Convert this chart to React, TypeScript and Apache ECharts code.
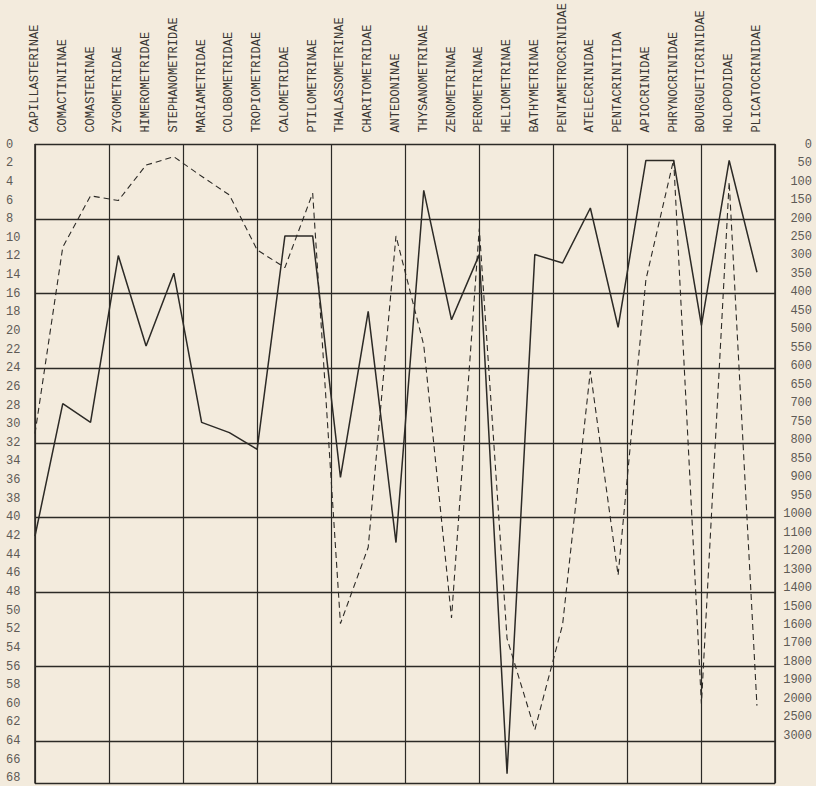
import React, { useEffect, useRef } from "react";
import * as echarts from "echarts";

const categories = [
  "CAPILLASTERINAE", "COMACTINIINAE", "COMASTERINAE", "ZYGOMETRIDAE", "HIMEROMETRIDAE",
  "STEPHANOMETRIDAE", "MARIAMETRIDAE", "COLOBOMETRIDAE", "TROPIOMETRIDAE", "CALOMETRIDAE",
  "PTILOMETRINAE", "THALASSOMETRINAE", "CHARITOMETRIDAE", "ANTEDONINAE", "THYSANOMETRINAE",
  "ZENOMETRINAE", "PEROMETRINAE", "HELIOMETRINAE", "BATHYMETRINAE", "PENTAMETROCRINIDAE",
  "ATELECRINIDAE", "PENTACRINITIDA", "APIOCRINIDAE", "PHRYNOCRINIDAE", "BOURGUETICRINIDAE",
  "HOLOPODIDAE", "PLICATOCRINIDAE",
];

// solid line (left scale)
const solidValues = [
  42, 27.8, 29.8, 11.9, 21.6, 13.8, 29.8, 30.9, 32.7, 9.8, 9.8, 35.7, 17.9, 42.7, 4.9,
  18.8, 11.8, 67.5, 11.8, 12.7, 6.8, 19.6, 1.7, 1.7, 19.4, 1.7, 13.7,
];

// dashed line (right scale, drawn in left-scale units)
const dashedValues = [
  31, 11, 5.5, 6, 2.2, 1.3, 3.4, 5.4, 11.3, 13.2, 5.2, 51.4, 43.2, 9.8, 21.5,
  50.8, 9, 53, 62.8, 51.5, 24.3, 46.2, 14.5, 1.6, 60, 4, 60.2,
];

const rightLabels = [
  "0", "50", "100", "150", "200", "250", "300", "350", "400", "450", "500", "550",
  "600", "650", "700", "750", "800", "850", "900", "950", "1000", "1100", "1200",
  "1300", "1400", "1500", "1600", "1700", "1800", "1900", "2000", "2500", "3000",
];

const INK = "#2c2a26";
const FONT = "'Liberation Mono', 'DejaVu Sans Mono', monospace";

export default function App() {
  const ref = useRef<HTMLDivElement>(null);
  useEffect(() => {
    if (!ref.current) return;
    const chart = echarts.init(ref.current, null, { renderer: "svg" });
    chart.setOption({
      animation: false,
      backgroundColor: "#f3ebdd",
      grid: { left: 35, right: 41, top: 143, bottom: 3 },
      xAxis: [
        {
          type: "value",
          min: 0,
          max: 10,
          interval: 1,
          position: "bottom",
          axisLine: { show: false },
          axisTick: { show: false },
          axisLabel: { show: false },
          splitLine: { show: true, lineStyle: { color: INK, width: 1.2 } },
        },
        {
          type: "value",
          min: 0,
          max: 26.65,
          interval: 1,
          position: "top",
          axisLine: { show: false },
          axisTick: { show: false },
          splitLine: { show: false },
          axisLabel: {
            show: true,
            rotate: 90,
            margin: 12,
            padding: [0, 0, 9, 0],
            color: "#3a3733",
            fontFamily: FONT,
            fontSize: 12,
            showMaxLabel: false,
            formatter: (v: number) =>
              Number.isInteger(v) && categories[v] ? categories[v] : "",
          },
        },
      ],
      yAxis: [
        {
          type: "value",
          inverse: true,
          min: 0,
          max: 68.5,
          interval: 2,
          position: "left",
          axisLine: { show: true, lineStyle: { color: INK, width: 1.6 } },
          axisTick: { show: false },
          splitLine: { show: false },
          axisLabel: {
            align: "left",
            margin: 29,
            color: "#5e5a55",
            fontFamily: FONT,
            fontSize: 12,
            formatter: (v: number) => (v % 2 === 0 && v <= 68 ? String(v) : ""),
          },
        },
        {
          type: "value",
          inverse: true,
          min: 0,
          max: 68.5,
          interval: 8,
          position: "left",
          axisLine: { show: false },
          axisTick: { show: false },
          axisLabel: { show: false },
          splitLine: { show: true, lineStyle: { color: INK, width: 1.3 } },
        },
        {
          type: "value",
          inverse: true,
          min: 0,
          max: 34.55,
          interval: 1,
          position: "right",
          axisLine: { show: true, lineStyle: { color: INK, width: 1.6 } },
          axisTick: { show: false },
          splitLine: { show: false },
          axisLabel: {
            align: "right",
            margin: 37,
            color: "#5e5a55",
            fontFamily: FONT,
            fontSize: 12,
            formatter: (v: number) =>
              Number.isInteger(v) && rightLabels[v] !== undefined ? rightLabels[v] : "",
          },
        },
      ],
      series: [
        {
          type: "line",
          xAxisIndex: 1,
          yAxisIndex: 0,
          symbol: "none",
          data: solidValues.map((v, i) => [i, v]),
          lineStyle: { color: INK, width: 1.5, type: "solid" },
        },
        {
          type: "line",
          xAxisIndex: 1,
          yAxisIndex: 0,
          symbol: "none",
          data: dashedValues.map((v, i) => [i, v]),
          lineStyle: { color: INK, width: 1.1, type: [6, 4] },
        },
      ],
    });
    return () => chart.dispose();
  }, []);
  return (
    <div
      ref={ref}
      style={{ position: "fixed", left: 0, top: 0, width: 816, height: 786 }}
    />
  );
}
